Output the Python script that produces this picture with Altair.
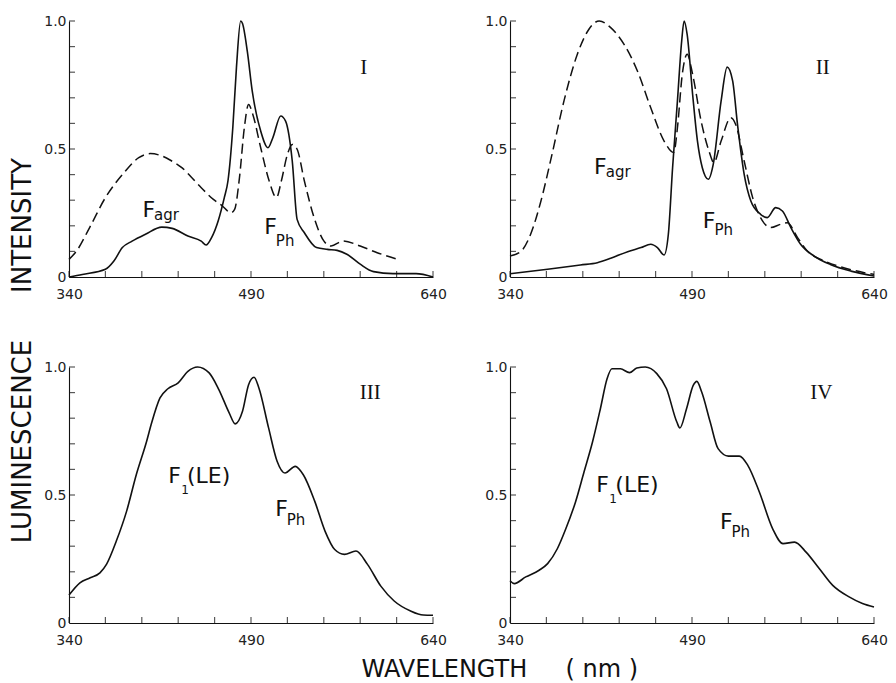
import altair as alt
import pandas as pd

# ---------------- data ----------------
p1_solid_wl = [340, 351, 370, 377, 384, 392, 403, 416.5, 425, 438, 449, 453, 457.5, 463, 468, 471, 475, 478, 481.5,
               483, 487, 491, 498, 504, 508, 514.5, 518.5, 524, 528, 534, 544, 553, 561, 569, 580, 591, 607, 626, 640]
p1_solid_v = [0.0, 0.01, 0.03, 0.0625, 0.115, 0.14, 0.167, 0.195, 0.19, 0.16, 0.14, 0.125, 0.154, 0.22, 0.31, 0.375,
              0.583, 0.818, 1.0, 0.99, 0.88, 0.727, 0.57, 0.505, 0.544, 0.629, 0.609, 0.453, 0.225, 0.173, 0.115,
              0.108, 0.104, 0.089, 0.05, 0.021, 0.013, 0.013, 0.0]
p1_dash_wl = [340, 346, 357, 370, 384, 397.5, 407, 416.5, 424, 433, 444, 449, 459, 466, 473.5, 476.5, 480.5, 484.5,
              488, 491.5, 498, 505, 511, 515, 520, 524, 528, 534, 542, 550, 556, 566, 580, 594, 611]
p1_dash_v = [0.069, 0.1, 0.193, 0.31, 0.4, 0.466, 0.482, 0.473, 0.455, 0.427, 0.374, 0.349, 0.303, 0.279, 0.251,
             0.264, 0.388, 0.583, 0.674, 0.635, 0.505, 0.375, 0.31, 0.375, 0.479, 0.518, 0.499, 0.375, 0.232, 0.141,
             0.121, 0.141, 0.121, 0.095, 0.069]

p2_solid_wl = [340, 371, 398, 412, 423, 437, 448, 456, 461.5, 467, 470.5, 474, 478, 481.5, 483.5, 486, 490.5, 494.5,
               498.5, 503.5, 507.5, 514, 519, 523.5, 527.5, 533, 538.5, 546.5, 552, 559, 564.5, 571.5, 579.5, 590.5,
               604, 621, 640]
p2_solid_v = [0.013, 0.03, 0.047, 0.056, 0.073, 0.099, 0.115, 0.128, 0.115, 0.086, 0.167, 0.427, 0.688, 0.922,
              1.0, 0.948, 0.714, 0.531, 0.427, 0.382, 0.44, 0.688, 0.82, 0.766, 0.596, 0.401, 0.297, 0.245, 0.232,
              0.271, 0.258, 0.193, 0.128, 0.082, 0.049, 0.023, 0.004]
p2_dash_wl = [340, 349, 357, 365.5, 374, 384.5, 395.5, 404, 413.5, 423, 434, 445, 456, 467, 475, 478, 482, 486,
              490.5, 497.5, 504, 508, 514, 522, 526, 533, 540, 546.5, 555, 563, 568.5, 577, 585, 599, 615, 632, 640]
p2_dash_v = [0.082, 0.1, 0.167, 0.297, 0.466, 0.688, 0.87, 0.96, 1.0, 0.974, 0.909, 0.805, 0.661, 0.531, 0.486,
             0.583, 0.792, 0.87, 0.792, 0.609, 0.492, 0.447, 0.531, 0.622, 0.596, 0.453, 0.31, 0.232, 0.193, 0.206,
             0.212, 0.154, 0.102, 0.063, 0.036, 0.017, 0.01]

p3_solid_wl = [340, 349, 357.5, 365.5, 371, 379, 387.5, 395.5, 404, 408, 415, 421.5, 430, 438, 446, 455.5, 463.5,
               472, 477, 483, 488, 492.5, 496.5, 504.5, 511.5, 518, 526.5, 533, 542.5, 551, 559, 567, 576.5, 586,
               597, 608, 621.5, 632, 640]
p3_solid_v = [0.109, 0.157, 0.177, 0.196, 0.23, 0.32, 0.437, 0.58, 0.71, 0.78, 0.879, 0.915, 0.938, 0.983, 1.0,
              0.977, 0.912, 0.821, 0.778, 0.827, 0.931, 0.96, 0.918, 0.762, 0.632, 0.586, 0.612, 0.58, 0.476, 0.359,
              0.287, 0.268, 0.281, 0.229, 0.144, 0.086, 0.047, 0.031, 0.03]

p4_solid_wl = [340, 343.5, 353, 364, 371, 379, 386, 394, 401, 408, 414.5, 420, 424, 431, 438.5, 444.5, 451.5, 461,
               469, 477.5, 480, 485.5, 491, 494, 498, 505, 511.5, 520, 529, 536, 545.5, 556.5, 565, 574.5, 584, 595,
               606, 619.5, 630.5, 640]
p4_solid_v = [0.165, 0.154, 0.18, 0.206, 0.232, 0.29, 0.368, 0.473, 0.59, 0.707, 0.837, 0.954, 0.993, 0.993, 0.978,
              0.996, 1.0, 0.974, 0.915, 0.785, 0.762, 0.837, 0.928, 0.944, 0.902, 0.785, 0.681, 0.652, 0.652, 0.616,
              0.512, 0.368, 0.31, 0.316, 0.277, 0.212, 0.147, 0.102, 0.076, 0.0625]

x_label_values = [340, 490, 640]
y_label_values = [0, 0.5, 1.0]
x_tick_values = [340, 370, 400, 430, 460, 490, 520, 550, 580, 610, 640]
y_tick_values = [0.1, 0.2, 0.3, 0.4, 0.5, 0.6, 0.7, 0.8, 0.9, 1.0]

# annotation texts: (text, wavelength, value)
p1_big = [("F", 400.5, 0.234), ("F", 501, 0.168)]
p1_sub = [("agr", 410, 0.222), ("Ph", 510.5, 0.121)]
p1_small = []
p1_num = [("I", 583, 0.793)]

p2_big = [("F", 409.2, 0.402), ("F", 498.8, 0.193)]
p2_sub = [("agr", 419, 0.39), ("Ph", 508.5, 0.163)]
p2_small = []
p2_num = [("II", 597.7, 0.792)]

p3_big = [("F", 421.7, 0.547), ("(LE)", 437.2, 0.547), ("F", 510, 0.418)]
p3_sub = [("Ph", 519.5, 0.383)]
p3_small = [("1", 432.5, 0.503)]
p3_num = [("III", 588.3, 0.874)]

p4_big = [("F", 411, 0.512), ("(LE)", 426.8, 0.512), ("F", 513, 0.368)]
p4_sub = [("Ph", 522.5, 0.336)]
p4_small = [("1", 421.8, 0.47)]
p4_num = [("IV", 596.5, 0.876)]

# ---------------- styling ----------------
W, H = 364, 256
FONT = "DejaVu Sans"
SERIF = "Liberation Serif"
INK = "#111111"


def panel(solid, dashed, big, sub, small, num, ytitle=None, xtitle=None):
    xs = alt.Scale(domain=[340, 640], nice=False, zero=False)
    ys = alt.Scale(domain=[0, 1], nice=False)
    xa = dict(values=x_label_values, ticks=False, labelPadding=10, labelFlush=False, grid=False)
    ya = dict(values=y_label_values, ticks=False, labelPadding=3, labelFlush=False, grid=False,
              labelExpr="datum.value == 0 ? '0' : format(datum.value, '.1f')")
    if xtitle:
        xa.update(title=xtitle, titleX=292, titleY=53, titleAlign="left", titleBaseline="alphabetic",
                  titleFontSize=24, titleFontWeight="normal", titleFont=FONT, titleColor=INK)
    else:
        xa.update(title=None)
    if ytitle:
        ya.update(title=ytitle[0], titleX=-39, titleY=ytitle[1], titleAngle=270, titleAlign="center",
                  titleBaseline="alphabetic", titleFontSize=26, titleFontWeight="normal", titleFont=FONT,
                  titleColor=INK)
    else:
        ya.update(title=None)
    X = alt.X("wl:Q", scale=xs, axis=alt.Axis(**xa))
    Y = alt.Y("v:Q", scale=ys, axis=alt.Axis(**ya))

    layers = [alt.Chart(pd.DataFrame({"wl": solid[0], "v": solid[1]}))
              .mark_line(color=INK, strokeWidth=1.6, interpolate="monotone")
              .encode(x=X, y=Y)]
    if dashed is not None:
        layers.append(alt.Chart(pd.DataFrame({"wl": dashed[0], "v": dashed[1]}))
                      .mark_line(color=INK, strokeWidth=1.5, strokeDash=[10, 5], interpolate="monotone")
                      .encode(x=X, y=Y))
    # inward-pointing minor ticks along the x axis and the y axis
    layers.append(alt.Chart(pd.DataFrame({"wl": x_tick_values}))
                  .mark_tick(color=INK, orient="vertical", size=6, thickness=1.2)
                  .encode(x=X, y=alt.value(H - 3)))
    layers.append(alt.Chart(pd.DataFrame({"v": y_tick_values}))
                  .mark_tick(color=INK, orient="horizontal", size=6, thickness=1.2)
                  .encode(y=Y, x=alt.value(3)))

    def txt(rows, size, font, align="left"):
        df = pd.DataFrame(rows, columns=["t", "wl", "v"])
        return (alt.Chart(df)
                .mark_text(align=align, baseline="alphabetic", fontSize=size, font=font, color=INK)
                .encode(x=X, y=Y, text="t:N"))

    layers.append(txt(big, 22, FONT))
    layers.append(txt(sub, 15, FONT))
    if small:
        layers.append(txt(small, 12, FONT))
    layers.append(txt(num, 21, SERIF, align="center"))
    return alt.layer(*layers).properties(width=W, height=H)


c1 = panel((p1_solid_wl, p1_solid_v), (p1_dash_wl, p1_dash_v), p1_big, p1_sub, p1_small, p1_num,
           ytitle=("INTENSITY", 204))
c2 = panel((p2_solid_wl, p2_solid_v), (p2_dash_wl, p2_dash_v), p2_big, p2_sub, p2_small, p2_num)
c3 = panel((p3_solid_wl, p3_solid_v), None, p3_big, p3_sub, p3_small, p3_num,
           ytitle=("LUMINESCENCE", 74),
           xtitle="WAVELENGTH\u00a0\u00a0\u00a0\u00a0\u00a0(\u00a0nm\u00a0)")
c4 = panel((p4_solid_wl, p4_solid_v), None, p4_big, p4_sub, p4_small, p4_num)

chart = (alt.concat(c1, c2, c3, c4, columns=2)
         .properties(spacing={"row": 90, "column": 77}, bounds="flush",
                     padding={"left": 0, "top": 6, "right": 0, "bottom": 0}, background="white")
         .configure_view(stroke=None)
         .configure_axis(domainColor=INK, domainWidth=1.1, labelColor="#222222", labelFont=FONT,
                         labelFontSize=14))

chart.save("out.html", embed_options={"renderer": "svg", "actions": False})
